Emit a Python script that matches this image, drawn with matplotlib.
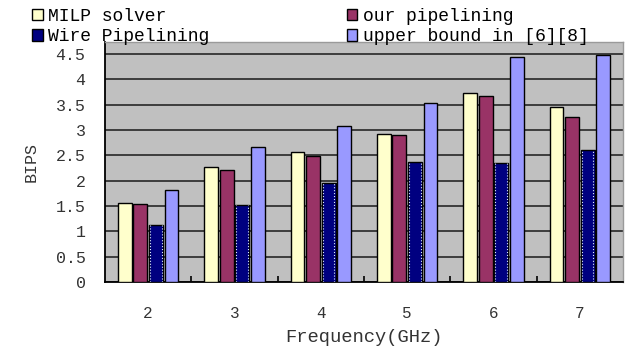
import numpy as np
import matplotlib.pyplot as plt

# Values
freqs = ['2', '3', '4', '5', '6', '7']
milp = [1.56, 2.28, 2.56, 2.93, 3.74, 3.45]
ours = [1.54, 2.22, 2.49, 2.91, 3.67, 3.25]
wire = [1.12, 1.53, 1.95, 2.37, 2.36, 2.61]
upper = [1.81, 2.67, 3.09, 3.53, 4.45, 4.49]

series = [milp, ours, wire, upper]
names = ['MILP solver', 'our pipelining', 'Wire Pipelining', 'upper bound in [6][8]']
colors = ['#ffffcc', '#993366', '#000080', '#9999ff']

mono = 'Liberation Mono'
plt.rcParams['font.family'] = [mono, 'DejaVu Sans Mono']

fig = plt.figure(figsize=(6.26, 3.46), dpi=100)
ax = fig.add_axes([105/626, 64/346, 518/626, 240/346])
ax.set_facecolor('#c0c0c0')

x = np.arange(len(freqs))
step = 0.18
width = 0.16
bars = []
for i, vals in enumerate(series):
    offs = (i - 1.5) * step
    b = ax.bar(x + offs, vals, width, color=colors[i], edgecolor='black',
               linewidth=1.0, zorder=3, label=names[i])
    bars.append(b)

# dotted light edge on the wire pipelining bars
for rect in bars[2]:
    x0 = rect.get_x() + 0.012
    x1 = rect.get_x() + rect.get_width() - 0.012
    h = rect.get_height()
    ax.plot([x0, x0], [0, h], color='#ddeeff', lw=0.8, ls=':', zorder=4)
    ax.plot([x1, x1], [0, h], color='#ddeeff', lw=0.8, ls=':', zorder=4)

ax.set_xlim(-0.5, 5.5)
ax.set_ylim(0, 4.74)
ax.set_yticks(np.arange(0, 4.51, 0.5))
ax.set_yticklabels(['0', '0.5', '1', '1.5', '2', '2.5', '3', '3.5', '4', '4.5'])
ax.set_xticks(x)
ax.set_xticklabels(freqs)
ax.set_xticks(np.arange(0.5, 5.5, 1), minor=True)
ax.tick_params(axis='x', which='major', length=0, pad=17, labelsize=11.5)
ax.tick_params(axis='x', which='minor', length=4, direction='in', width=1.2)
ax.tick_params(axis='y', length=0, pad=14, labelsize=12)
for t in ax.get_yticklabels() + ax.get_xticklabels():
    t.set_color('#333333')

ax.yaxis.grid(True, color='#333333', lw=1.3, zorder=1)
ax.set_axisbelow(True)
for s in ['left', 'bottom']:
    ax.spines[s].set_color('black')
    ax.spines[s].set_linewidth(1.3)
for s in ['top', 'right']:
    ax.spines[s].set_color('#9a9a9a')
    ax.spines[s].set_linewidth(1.0)

ax.set_xlabel('Frequency(GHz)', fontsize=13.5, color='#333333', labelpad=6)
ax.set_ylabel('BIPS', fontsize=12, color='#333333', labelpad=12)

h = [bars[0], bars[2], bars[1], bars[3]]
l = [names[0], names[2], names[1], names[3]]
fig.legend(h, l, ncol=2, loc='upper left', bbox_to_anchor=(0.025, 1.025),
           frameon=False, fontsize=13, handlelength=0.6, handleheight=0.6,
           handletextpad=0.3, columnspacing=7.6, labelspacing=0.2)

fig.savefig('out.png', dpi=100)
